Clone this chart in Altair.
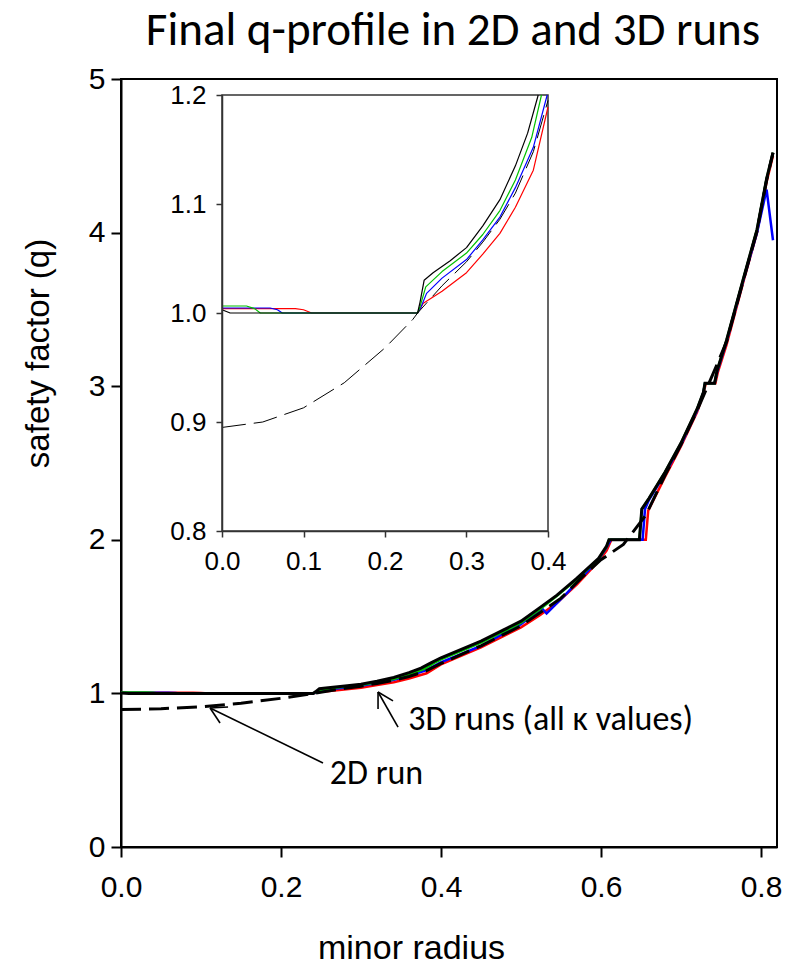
import altair as alt
import pandas as pd

# ---------------- data ----------------
black_r = [0.0, 0.01, 0.24, 0.243, 0.248, 0.259, 0.28, 0.30, 0.32, 0.341, 0.36, 0.375, 0.388, 0.40, 0.45, 0.50, 0.524, 0.545, 0.57, 0.597, 0.607, 0.61, 0.648, 0.651, 0.66, 0.68, 0.70, 0.72, 0.728, 0.73, 0.742, 0.745, 0.757, 0.778, 0.795, 0.807, 0.815]
black_q = [1.003, 1.0, 1.0, 1.01, 1.03, 1.037, 1.048, 1.06, 1.08, 1.104, 1.135, 1.165, 1.2, 1.232, 1.34, 1.47, 1.56, 1.64, 1.75, 1.88, 1.96, 2.0, 2.0, 2.2, 2.27, 2.44, 2.63, 2.85, 2.96, 3.02, 3.02, 3.1, 3.3, 3.7, 4.02, 4.35, 4.52]

green_r = [0.0, 0.03, 0.04, 0.047, 0.24, 0.243, 0.25, 0.27, 0.30, 0.32, 0.341, 0.36, 0.38, 0.392, 0.40, 0.45, 0.50, 0.524, 0.545, 0.57, 0.597, 0.607, 0.61, 0.648, 0.651, 0.66, 0.68, 0.70, 0.72, 0.728, 0.73, 0.742, 0.745, 0.757, 0.778, 0.795, 0.807, 0.815]
green_q = [1.0064, 1.0064, 1.004, 1.0, 1.0, 1.006, 1.024, 1.038, 1.055, 1.072, 1.094, 1.122, 1.161, 1.2, 1.222, 1.33, 1.46, 1.55, 1.635, 1.745, 1.875, 1.955, 2.0, 2.0, 2.2, 2.27, 2.44, 2.63, 2.85, 2.96, 3.02, 3.02, 3.1, 3.3, 3.7, 4.02, 4.35, 4.52]

blue_r = [0.0, 0.059, 0.068, 0.074, 0.24, 0.244, 0.251, 0.27, 0.30, 0.32, 0.341, 0.36, 0.382, 0.399, 0.45, 0.50, 0.526, 0.532, 0.555, 0.575, 0.597, 0.607, 0.612, 0.652, 0.655, 0.66, 0.68, 0.70, 0.72, 0.728, 0.73, 0.742, 0.745, 0.757, 0.778, 0.795, 0.807, 0.815]
blue_q = [1.0046, 1.0046, 1.003, 1.0, 1.0, 1.005, 1.018, 1.032, 1.049, 1.067, 1.088, 1.115, 1.152, 1.2, 1.31, 1.45, 1.555, 1.52, 1.64, 1.75, 1.87, 1.95, 2.0, 2.0, 2.2, 2.26, 2.43, 2.62, 2.84, 2.96, 3.02, 3.02, 3.09, 3.29, 3.69, 4.0, 4.28, 3.95]

red_r = [0.0, 0.09, 0.10, 0.11, 0.24, 0.247, 0.27, 0.30, 0.32, 0.341, 0.36, 0.382, 0.40, 0.45, 0.50, 0.524, 0.545, 0.57, 0.597, 0.607, 0.613, 0.656, 0.659, 0.68, 0.70, 0.72, 0.728, 0.731, 0.743, 0.746, 0.757, 0.778, 0.795, 0.807, 0.815]
red_q = [1.004, 1.004, 1.003, 1.0, 1.0, 1.009, 1.02, 1.037, 1.054, 1.073, 1.097, 1.131, 1.189, 1.3, 1.43, 1.51, 1.59, 1.71, 1.86, 1.93, 2.0, 2.0, 2.19, 2.41, 2.61, 2.83, 2.95, 3.02, 3.02, 3.09, 3.27, 3.68, 4.0, 4.33, 4.5]

run2d_r = [0.0, 0.05, 0.10, 0.15, 0.20, 0.234, 0.24, 0.27, 0.30, 0.32, 0.341, 0.36, 0.382, 0.40, 0.45, 0.50, 0.55, 0.577, 0.60, 0.628, 0.656, 0.68, 0.70, 0.72, 0.74, 0.757, 0.778, 0.795, 0.807, 0.815]
run2d_q = [0.895, 0.90, 0.913, 0.936, 0.968, 0.994, 1.0, 1.025, 1.047, 1.065, 1.086, 1.11, 1.148, 1.195, 1.31, 1.44, 1.62, 1.76, 1.87, 1.97, 2.16, 2.42, 2.62, 2.84, 3.08, 3.29, 3.69, 4.01, 4.34, 4.52]

main_x_ticks = [0.0, 0.2, 0.4, 0.6, 0.8]
main_y_ticks = [0, 1, 2, 3, 4, 5]
inset_x_ticks = [0.0, 0.1, 0.2, 0.3, 0.4]
inset_y_ticks = [0.8, 0.9, 1.0, 1.1, 1.2]

# annotation labels and arrows (data coordinates)
label_text = ["3D runs (all \u03ba values)", "2D run"]
label_r = [0.359, 0.261]
label_q = [0.76, 0.41]
arrow_r = [0.3463, 0.3213, 0.3213, 0.2525, 0.1113, 0.1113]
arrow_q = [0.781, 1.009, 1.009, 0.547, 0.905, 0.905]
arrow_r2 = [0.3213, 0.34, 0.3213, 0.1113, 0.1338, 0.1238]
arrow_q2 = [1.009, 0.951, 0.898, 0.905, 0.911, 0.807]

# ---------------- frames ----------------
def frame(r, q):
    return pd.DataFrame({"r": r, "q": q})

df_black = frame(black_r, black_q)
df_green = frame(green_r, green_q)
df_blue = frame(blue_r, blue_q)
df_red = frame(red_r, red_q)
df_2d = frame(run2d_r, run2d_q)
df_labels = pd.DataFrame({"r": label_r, "q": label_q, "t": label_text})
df_arrows = pd.DataFrame({"r": arrow_r, "q": arrow_q, "r2": arrow_r2, "q2": arrow_q2})
df_box = pd.DataFrame({"r": [inset_x_ticks[0]], "r2": [inset_x_ticks[-1]],
                       "q": [inset_y_ticks[0]], "q2": [inset_y_ticks[-1]]})

AX_FONT = "Liberation Sans"
TXT_FONT = "Carlito"

mx_scale = alt.Scale(domain=[0, 0.82], nice=False, zero=False)
my_scale = alt.Scale(domain=[0, 5], nice=False, zero=False)

mx = alt.X("r:Q", scale=mx_scale, axis=alt.Axis(
    values=main_x_ticks, format=".1f", title="minor radius",
    labelFont=AX_FONT, labelFontSize=30, labelColor="black", labelPadding=15,
    tickSize=10, tickWidth=2, tickColor="black", domainColor="black", domainWidth=2,
    titleFont=AX_FONT, titleFontSize=34, titleFontWeight="normal", titleColor="black",
    titleX=290, titleY=111, titleBaseline="alphabetic", titleAlign="center",
    grid=False, labelFlush=False))
my = alt.Y("q:Q", scale=my_scale, axis=alt.Axis(
    values=main_y_ticks, format="d", title="safety factor (q)",
    labelFont=AX_FONT, labelFontSize=30, labelColor="black", labelPadding=6,
    tickSize=10, tickWidth=2, tickColor="black", domainColor="black", domainWidth=2,
    titleFont=AX_FONT, titleFontSize=33, titleFontWeight="normal", titleColor="black",
    titleAngle=270, titleX=-73, titleY=274, titleBaseline="alphabetic", titleAlign="center",
    grid=False, labelFlush=False))


def main_line(df, color, width, dash=None):
    kw = dict(color=color, strokeWidth=width, strokeJoin="miter", strokeCap="butt")
    if dash:
        kw["strokeDash"] = dash
    return alt.Chart(df).mark_line(**kw).encode(x=mx, y=my, order="idx:Q").transform_window(idx="row_number()")


main_layer = alt.layer(
    main_line(df_red, "#ff0000", 2.5),
    main_line(df_blue, "#0000ff", 2.5),
    main_line(df_green, "#00c000", 2.5),
    main_line(df_black, "#000000", 3),
    main_line(df_2d, "#000000", 3, dash=[20, 8]),
    alt.Chart(df_arrows).mark_rule(color="black", strokeWidth=1.6).encode(
        x=mx, y=my, x2="r2:Q", y2="q2:Q"),
    alt.Chart(df_labels).mark_text(font=TXT_FONT, fontSize=34, align="left",
                                   baseline="alphabetic", color="black").encode(
        x=mx, y=my, text="t:N"),
)

# ---------------- inset ----------------
ix_scale = alt.Scale(domain=[inset_x_ticks[0], inset_x_ticks[-1]], range=[101, 427], nice=False, zero=False)
iy_scale = alt.Scale(domain=[inset_y_ticks[0], inset_y_ticks[-1]], range=[452, 16], nice=False, zero=False)

ix = alt.X("r:Q", scale=ix_scale, axis=alt.Axis(
    orient="bottom", offset=-316, values=inset_x_ticks, format=".1f", title=None,
    labelFont=AX_FONT, labelFontSize=26, labelColor="black", labelPadding=11,
    tickSize=6, tickWidth=1.5, tickColor="#333333", domainColor="#333333", domainWidth=1.5,
    grid=False, labelFlush=False, zindex=2))
iy = alt.Y("q:Q", scale=iy_scale, axis=alt.Axis(
    orient="left", offset=-101, values=inset_y_ticks, format=".1f", title=None,
    labelFont=AX_FONT, labelFontSize=26, labelColor="black", labelPadding=10,
    tickSize=6, tickWidth=1.5, tickColor="#333333", domainColor="#333333", domainWidth=1.5,
    grid=False, labelFlush=False, zindex=2))

inset_filter = (alt.datum.r <= inset_x_ticks[-1]) & (alt.datum.q <= inset_y_ticks[-1]) & (alt.datum.q >= inset_y_ticks[0])


def inset_line(df, color, width, dash=None):
    kw = dict(color=color, strokeWidth=width, strokeJoin="round")
    if dash:
        kw["strokeDash"] = dash
    return (alt.Chart(df).transform_window(idx="row_number()").transform_filter(inset_filter)
            .mark_line(**kw).encode(x=ix, y=iy, order="idx:Q"))


inset_layer = alt.layer(
    alt.Chart(df_box).mark_rect(fill="white", stroke="#333333", strokeWidth=1.5).encode(
        x=ix, y=iy, x2="r2:Q", y2="q2:Q"),
    inset_line(df_red, "#ff0000", 1.2),
    inset_line(df_blue, "#0000ff", 1.2),
    inset_line(df_green, "#00c000", 1.2),
    inset_line(df_black, "#000000", 1.2),
    inset_line(df_2d, "#000000", 1.0, dash=[24, 8]),
)

chart = alt.layer(main_layer, inset_layer).resolve_scale(
    x="independent", y="independent").resolve_axis(x="independent", y="independent").properties(
    width=656, height=768,
    autosize=alt.AutoSizeParams(type="none"),
    padding={"left": 121, "top": 79, "right": 8, "bottom": 123},
    title=alt.TitleParams("Final q-profile in 2D and 3D runs", font=TXT_FONT, fontSize=47,
                          fontWeight="normal", color="black", anchor="middle", offset=9, dx=4),
    background="white",
).configure_view(stroke="black", strokeWidth=2)

chart.save("out.html", embed_options={"renderer": "svg", "actions": False})
